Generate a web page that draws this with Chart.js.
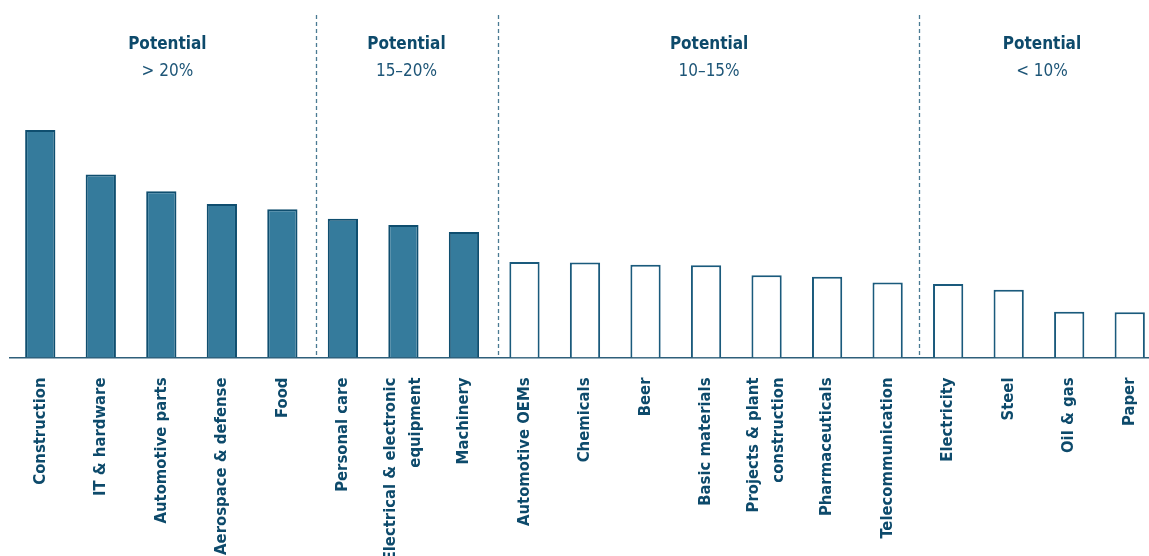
<!DOCTYPE html>
<html>
<head>
<meta charset="utf-8">
<script src="https://cdn.jsdelivr.net/npm/chart.js@4.4.1/dist/chart.umd.min.js"></script>
<style>
  html, body { margin: 0; padding: 0; background: #fff; }
  #wrap { width: 1149px; height: 556px; overflow: hidden; }
</style>
</head>
<body>
<div id="wrap"><canvas id="myChart" width="1160" height="556"></canvas></div>
<script>
// sectors, index (Construction = 100)
const sectors = [
  "Construction", "IT & hardware", "Automotive parts", "Aerospace & defense", "Food",
  "Personal care", ["Electrical & electronic", "equipment"], "Machinery",
  "Automotive OEMs", "Chemicals", "Beer", "Basic materials", ["Projects & plant", "construction"],
  "Pharmaceuticals", "Telecommunication",
  "Electricity", "Steel", "Oil & gas", "Paper"
];
const values = [
  100, 80.4, 73.0, 67.5, 65.1,
  61.0, 58.2, 55.2,
  42.0, 41.7, 40.8, 40.5, 36.1, 35.5, 33.0,
  32.3, 29.8, 20.1, 19.9
];
const filledCount = 8; // first 8 bars are solid

// groups
const groupTitles = ["Potential", "Potential", "Potential", "Potential"];
const groupRanges = ["> 20%", "15\u201320%", "10\u201315%", "< 10%"];
const groupCenters = [2.1, 6.05, 11.05, 16.55];
const separators = [4.55, 7.57, 14.52];

const navy = "#0d4a6b";
const fill = "#357b9c";
const fam = "'Liberation Sans Narrow', 'DejaVu Sans Condensed', sans-serif";

const groupPlugin = {
  id: "groups",
  beforeDraw(chart) {
    // center multi-line rotated labels on their bar
    const x = chart.scales.x;
    const items = x.getLabelItems();
    items.forEach(function (it) {
      if (Array.isArray(it.label) && !it._shifted) {
        const lh = it.font.lineHeight;
        it.options.translation[0] -= (it.label.length - 1) * lh / 2;
        it._shifted = true;
      }
    });
  },
  afterDraw(chart) {
    const ctx = chart.ctx;
    const x = chart.scales.x;
    const area = chart.chartArea;
    ctx.save();
    ctx.strokeStyle = "#4a7a93";
    ctx.lineWidth = 1.3;
    ctx.setLineDash([4, 3]);
    separators.forEach(function (s) {
      const px = Math.round(x.getPixelForValue(s)) + 0.5;
      ctx.beginPath();
      ctx.moveTo(px, area.top);
      ctx.lineTo(px, area.bottom);
      ctx.stroke();
    });
    ctx.setLineDash([]);
    ctx.textAlign = "center";
    ctx.textBaseline = "middle";
    groupCenters.forEach(function (c, i) {
      const px = x.getPixelForValue(c);
      ctx.fillStyle = navy;
      ctx.font = "bold 17px " + fam;
      ctx.fillText(groupTitles[i], px, 45);
      ctx.fillStyle = "#1d5577";
      ctx.font = "17px " + fam;
      ctx.fillText(groupRanges[i], px, 72);
    });
    ctx.restore();
  }
};

new Chart(document.getElementById("myChart"), {
  type: "bar",
  data: {
    labels: sectors,
    datasets: [{
      data: values,
      backgroundColor: values.map((v, i) => i < filledCount ? fill : "#ffffff"),
      borderColor: values.map((v, i) => i < filledCount ? "#0f4e6f" : "#1a5a7c"),
      borderWidth: 2,
      barPercentage: 0.5,
      categoryPercentage: 1
    }]
  },
  options: {
    responsive: false,
    animation: false,
    layout: { padding: { left: 10, right: 0, top: 15, bottom: 0 } },
    plugins: { legend: { display: false }, tooltip: { enabled: false } },
    scales: {
      x: {
        grid: { display: false, drawTicks: false },
        border: { color: "#2e5f7a", width: 1.5 },
        ticks: {
          color: navy,
          font: { family: fam, size: 16.5, weight: "bold", lineHeight: 1.5 },
          maxRotation: 90,
          minRotation: 90,
          autoSkip: false,
          padding: 20
        },
        afterFit: function (scale) {
          scale.height = 198.5;
          scale.paddingLeft = 0;
          scale.paddingRight = 0;
        }
      },
      y: { display: false, min: 0, max: 150.5 }
    }
  },
  plugins: [groupPlugin]
});
</script>
</body>
</html>
